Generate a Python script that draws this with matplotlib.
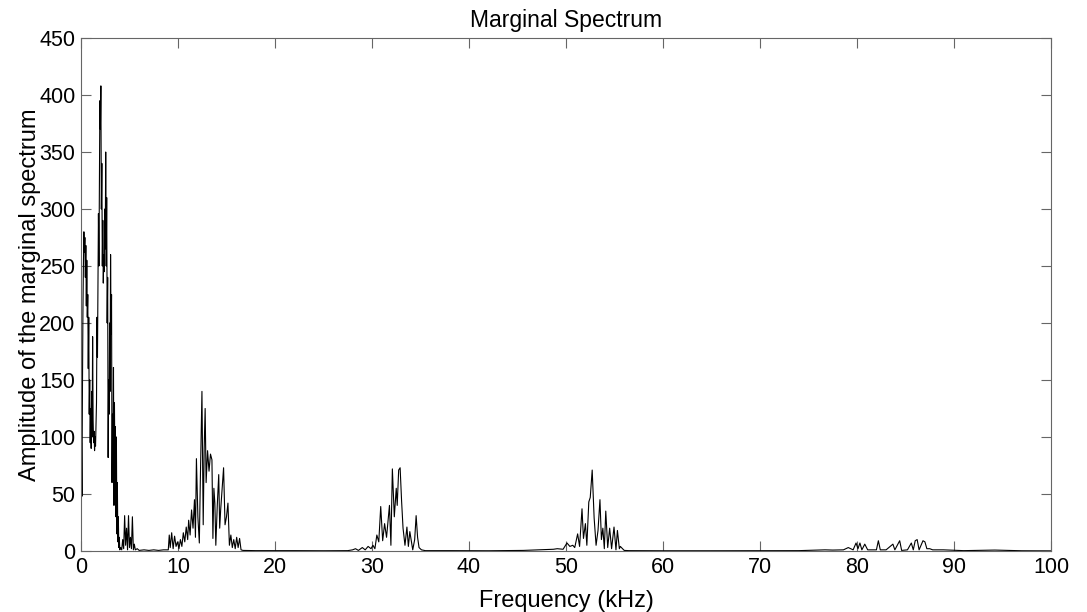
import numpy as np
import matplotlib
matplotlib.use('Agg')
import matplotlib.pyplot as plt

# values (frequency in kHz, amplitude)
freq_low = [0.00, 0.05, 0.10, 0.15, 0.20, 0.25, 0.30, 0.35, 0.40, 0.45, 0.50, 0.55, 0.60, 0.65,
            0.70, 0.75, 0.80, 0.85, 0.90, 0.95, 1.00, 1.05, 1.10, 1.15, 1.20, 1.25, 1.30, 1.35,
            1.40, 1.45, 1.50, 1.55, 1.60, 1.65, 1.70, 1.75, 1.80, 1.85, 1.90, 1.95, 2.00, 2.05,
            2.10, 2.15, 2.20, 2.25, 2.30, 2.35, 2.40, 2.45, 2.50, 2.55, 2.60, 2.65, 2.70, 2.75,
            2.80, 2.85, 2.90, 2.95, 3.00, 3.05, 3.10, 3.15, 3.20, 3.25, 3.30, 3.35, 3.40, 3.45,
            3.50, 3.55, 3.60, 3.65, 3.70, 3.75, 3.80, 3.85, 3.90, 3.95, 4.00, 4.10, 4.20, 4.30,
            4.40, 4.50, 4.60, 4.70, 4.80, 4.90, 5.00, 5.10, 5.20, 5.30, 5.40, 5.50, 5.60, 5.80,
            6.00, 6.50, 7.00, 7.50, 8.00, 8.50]
amp_low = [55, 95, 48, 140, 210, 250, 280, 262, 275, 240, 268, 215, 255, 205,
           225, 160, 205, 120, 150, 95, 125, 90, 140, 100, 188, 115, 95, 105,
           88, 100, 92, 110, 130, 205, 170, 240, 296, 250, 330, 395, 370, 408,
           300, 340, 250, 290, 235, 260, 245, 300, 265, 350, 250, 310, 200, 240,
           82, 150, 120, 200, 140, 260, 190, 225, 60, 120, 80, 161, 40, 130,
           70, 109, 30, 100, 15, 60, 8, 30, 3, 12, 1, 3, 1, 10,
           2, 31, 5, 20, 1, 31, 3, 12, 2, 30, 1, 6, 1, 2,
           0.5, 1, 0.5, 1, 0.5, 1]

freq_12k = [9.0, 9.1, 9.2, 9.35, 9.5, 9.65, 9.8, 9.95, 10.1, 10.25, 10.4, 10.55, 10.7, 10.85,
            11.0, 11.1, 11.25, 11.4, 11.55, 11.7, 11.8, 11.9, 12.05, 12.2, 12.3, 12.47, 12.6,
            12.7, 12.8, 12.9, 13.05, 13.2, 13.35, 13.5, 13.6, 13.7, 13.8, 13.9, 14.05, 14.2,
            14.3, 14.4, 14.55, 14.7, 14.85, 15.0, 15.15, 15.3, 15.45, 15.6, 15.75, 15.9, 16.05,
            16.2, 16.35, 16.5, 16.7, 18.0, 22.0, 25.0]
amp_12k = [1, 14, 3, 16, 2, 13, 4, 8, 2, 10, 4, 16, 8, 21,
           10, 27, 14, 36, 20, 45, 12, 81, 30, 7, 60, 140, 23,
           90, 125, 60, 88, 70, 85, 80, 11, 55, 42, 5, 40, 67,
           20, 36, 55, 73, 23, 30, 42, 5, 14, 3, 10, 2, 12,
           3, 11, 1, 0.5, 0.3, 0.3, 0.2]

freq_32k = [27.5, 28.0, 28.3, 28.6, 29.0, 29.3, 29.6, 29.9, 30.1, 30.3, 30.5, 30.7, 30.9, 31.1,
            31.3, 31.5, 31.7, 31.8, 31.95, 32.1, 32.3, 32.5, 32.6, 32.75, 32.9, 33.05, 33.2,
            33.4, 33.6, 33.75, 33.9, 34.2, 34.4, 34.55, 34.7, 34.85, 35.1, 35.5, 38.0, 42.0]
amp_32k = [0.3, 1, 2, 0.5, 3, 1, 4, 2, 5, 2, 14, 8, 39, 9,
           24, 12, 30, 40, 5, 72, 30, 55, 40, 71, 73, 44, 20,
           5, 21, 4, 17, 1, 10, 31, 12, 3, 1, 0.3, 0.3, 0.2]

freq_52k = [45.6, 47.3, 48.7, 49.1, 49.7, 50.1, 50.4, 50.7, 50.9, 51.2, 51.4, 51.65, 51.8, 52.0,
            52.15, 52.35, 52.5, 52.7, 52.9, 53.1, 53.3, 53.5, 53.65, 53.8, 53.95, 54.1, 54.3,
            54.5, 54.7, 54.95, 55.15, 55.3, 55.5, 55.6, 56.0, 56.5, 60.0, 65.0, 70.0, 74.0]
amp_52k = [0.5, 1, 1.5, 2, 1.5, 7, 4, 5, 3, 15, 4, 37, 11, 24,
           5, 43, 47, 71, 29, 5, 18, 45, 10, 20, 2, 35, 3,
           20, 2, 21, 1, 18, 2, 4, 0.5, 0.3, 0.2, 0.2, 0.3, 0.3]

freq_85k = [76.7, 77.5, 78.6, 79.1, 79.6, 79.9, 80.1, 80.3, 80.5, 80.8, 81.1, 81.5, 82.0, 82.2,
            82.4, 83.0, 83.7, 83.9, 84.4, 84.6, 85.2, 85.6, 85.8, 86.0, 86.2, 86.4, 86.8, 87.0,
            87.2, 87.5, 87.8, 88.4, 88.9, 91.0, 94.2, 97.0, 100.0]
amp_85k = [1, 0.8, 1, 3, 1, 7, 2, 7, 1, 6, 1, 1, 1, 9,
           1, 1, 6, 1, 9, 0.5, 1, 7, 1, 9, 10, 1, 9, 8,
           2, 2, 1, 1, 1, 0.3, 0.8, 0.2, 0.1]

x_ticks = list(range(0, 101, 10))
y_ticks = list(range(0, 451, 50))

freq = np.concatenate([freq_low, freq_12k, freq_32k, freq_52k, freq_85k])
amp = np.concatenate([amp_low, amp_12k, amp_32k, amp_52k, amp_85k])

plt.rcParams['font.family'] = ['Liberation Sans', 'DejaVu Sans']

fig = plt.figure(figsize=(10.87, 6.12), dpi=100)
ax = fig.add_axes([0.0745, 0.0997, 0.8924, 0.8382])

ax.plot(freq, amp, color='black', linewidth=0.8)

ax.set_xlim(0, 100)
ax.set_ylim(0, 450)
ax.set_xticks(x_ticks)
ax.set_yticks(y_ticks)
ax.tick_params(direction='in', length=7, width=0.8, color='#666666',
               top=True, right=True, labelsize=15.5, pad=4)
for spine in ax.spines.values():
    spine.set_color('#666666')
    spine.set_linewidth(0.8)

ax.set_title('Marginal Spectrum', fontsize=16.5, pad=8)
ax.set_xlabel('Frequency (kHz)', fontsize=17, labelpad=9)
ax.set_ylabel('Amplitude of the marginal spectrum', fontsize=17, labelpad=-1)

fig.savefig('out.png', dpi=100)
